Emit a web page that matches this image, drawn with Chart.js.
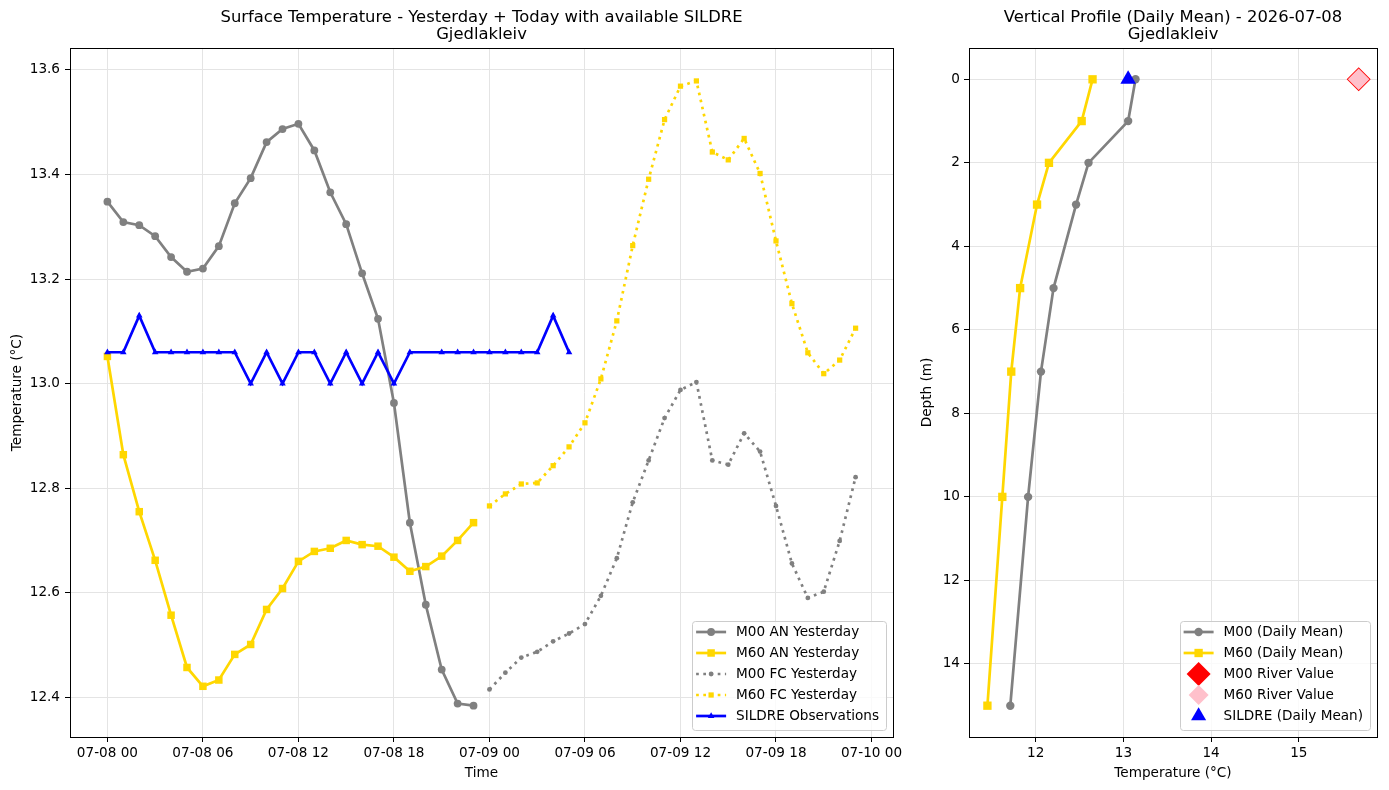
<!DOCTYPE html>
<html><head><meta charset="utf-8">
<script src="https://cdn.jsdelivr.net/npm/chart.js@4.4.1/dist/chart.umd.min.js"></script>
<style>
html,body{margin:0;padding:0;background:#fff;width:1389px;height:790px;overflow:hidden;}
#c1{position:absolute;left:0;top:0;}
#c2{position:absolute;left:915px;top:0;}
</style></head><body>
<canvas id="c1" width="915" height="790"></canvas>
<canvas id="c2" width="474" height="790"></canvas>
<script>
// ---------- data: surface temperature ----------
const anHours = [0,1,2,3,4,5,6,7,8,9,10,11,12,13,14,15,16,17,18,19,20,21,22,23];
const fcHours = [24,25,26,27,28,29,30,31,32,33,34,35,36,37,38,39,40,41,42,43,44,45,46,47];
const m00An = [13.348,13.309,13.303,13.282,13.242,13.214,13.220,13.263,13.345,13.393,13.462,13.487,13.497,13.446,13.366,13.305,13.211,13.124,12.963,12.734,12.577,12.453,12.388,12.384];
const m60An = [13.052,12.864,12.755,12.662,12.557,12.457,12.421,12.433,12.482,12.501,12.568,12.608,12.660,12.679,12.685,12.700,12.692,12.689,12.668,12.641,12.650,12.670,12.700,12.734];
const m00Fc = [12.415,12.447,12.476,12.487,12.507,12.522,12.540,12.594,12.666,12.773,12.853,12.934,12.988,13.003,12.853,12.845,12.905,12.870,12.766,12.656,12.590,12.602,12.699,12.821];
const m60Fc = [12.766,12.789,12.808,12.810,12.843,12.879,12.925,13.009,13.120,13.264,13.391,13.505,13.569,13.579,13.443,13.428,13.469,13.402,13.273,13.153,13.059,13.019,13.045,13.106];
const sildreHours = [0,1,2,3,4,5,6,7,8,9,10,11,12,13,14,15,16,17,18,19,21,22,23,24,25,26,27,28,29];
const sildreObs = [13.06,13.06,13.13,13.06,13.06,13.06,13.06,13.06,13.06,13.00,13.06,13.00,13.06,13.06,13.00,13.06,13.00,13.06,13.00,13.06,13.06,13.06,13.06,13.06,13.06,13.06,13.06,13.13,13.06];
const timeTickHours = [0,6,12,18,24,30,36,42,48];
const timeTickLabels = ['07-08 00','07-08 06','07-08 12','07-08 18','07-09 00','07-09 06','07-09 12','07-09 18','07-10 00'];
const tempTicks = [12.4,12.6,12.8,13.0,13.2,13.4,13.6];

// ---------- data: vertical profile ----------
const depths = [0,1,2,3,5,7,10,15];
const m00Profile = [13.138,13.054,12.602,12.460,12.203,12.060,11.913,11.710];
const m60Profile = [12.648,12.524,12.151,12.015,11.822,11.721,11.619,11.449];
const riverDepth = [0];
const m00River = [15.683];
const m60River = [15.683];
const sildreMean = [13.054];
const profileTempTicks = [12,13,14,15];
const depthTicks = [0,2,4,6,8,10,12,14];

const FONT = '"DejaVu Sans", sans-serif';
const FS = 13.6;
const LW = 2.7;
const DOT = [2.7, 4.5];
const GRAY = '#808080', GOLD = '#FFD700', BLUE = '#0000FF';

Chart.defaults.font.family = FONT;
Chart.defaults.font.size = FS;
Chart.defaults.color = '#000';

function drawMarker(ctx, m, x, y) {
  ctx.save();
  ctx.setLineDash([]);
  ctx.fillStyle = m.fill;
  ctx.beginPath();
  const r = m.r;
  switch (m.style) {
    case 'circle': ctx.arc(x, y, r, 0, Math.PI * 2); break;
    case 'rect': { const s = r * Math.SQRT1_2; ctx.rect(x - s, y - s, 2 * s, 2 * s); break; }
    case 'triangle': {
      const a1 = 2 * Math.PI / 3, a2 = 4 * Math.PI / 3;
      ctx.moveTo(x, y - r);
      ctx.lineTo(x + r * Math.sin(a1), y - r * Math.cos(a1));
      ctx.lineTo(x + r * Math.sin(a2), y - r * Math.cos(a2));
      break;
    }
    case 'rectRot': ctx.moveTo(x - r, y); ctx.lineTo(x, y - r); ctx.lineTo(x + r, y); ctx.lineTo(x, y + r); break;
  }
  ctx.closePath();
  ctx.fill();
  ctx.restore();
}

function legendPlugin(items) {
  return {
    id: 'customLegend',
    afterDraw(chart) {
      const ctx = chart.ctx, a = chart.chartArea;
      ctx.save();
      ctx.font = FS + 'px ' + FONT;
      const tw = Math.max(...items.map(it => ctx.measureText(it.label).width));
      const lineStart = 4, textOff = 44;
      const w = textOff + tw + 7, h = 109;
      const x0 = a.right - 7 - w, y0 = a.bottom - 7 - h;
      ctx.beginPath();
      ctx.roundRect(Math.round(x0) + 0.5, Math.round(y0) + 0.5, Math.round(w), Math.round(h), 3);
      ctx.fillStyle = 'rgba(255,255,255,0.8)';
      ctx.fill();
      ctx.strokeStyle = '#cccccc';
      ctx.lineWidth = 1;
      ctx.stroke();
      items.forEach((it, i) => {
        const cy = y0 + 11 + i * 21;
        if (it.line) {
          ctx.save();
          ctx.strokeStyle = it.color;
          ctx.lineWidth = LW;
          ctx.setLineDash(it.dash || []);
          ctx.beginPath();
          ctx.moveTo(x0 + lineStart, cy);
          ctx.lineTo(x0 + lineStart + 30, cy);
          ctx.stroke();
          ctx.restore();
        }
        drawMarker(ctx, it.marker, x0 + lineStart + 15, cy);
        ctx.fillStyle = '#000';
        ctx.textBaseline = 'middle';
        ctx.textAlign = 'left';
        ctx.fillText(it.label, x0 + textOff, cy + 0.5);
      });
      ctx.restore();
    }
  };
}

const framePlugin = {
  id: 'frame',
  afterDatasetsDraw(chart) {
    const ctx = chart.ctx, a = chart.chartArea;
    ctx.save();
    ctx.strokeStyle = '#000';
    ctx.lineWidth = 1;
    ctx.setLineDash([]);
    ctx.strokeRect(Math.round(a.left) + 0.5, Math.round(a.top) + 0.5, Math.round(a.right - a.left), Math.round(a.bottom - a.top));
    ctx.restore();
  }
};

function titlePlugin(lines) {
  return {
    id: 'twoLineTitle',
    afterDraw(chart) {
      const ctx = chart.ctx, a = chart.chartArea;
      ctx.save();
      ctx.font = '16.4px ' + FONT;
      ctx.fillStyle = '#000';
      ctx.textAlign = 'center';
      ctx.textBaseline = 'alphabetic';
      const cx = (a.left + a.right) / 2;
      ctx.fillText(lines[0], cx, 22);
      ctx.fillText(lines[1], cx, 38.7);
      ctx.restore();
    }
  };
}

const gridCommon = { color: '#e4e4e4', lineWidth: 1, tickColor: '#000', tickLength: 5, tickWidth: 1 };

// ---------- left chart ----------
const pts = (xs, ys) => xs.map((x, i) => ({ x: x, y: ys[i] }));

new Chart(document.getElementById('c1'), {
  type: 'line',
  data: {
    datasets: [
      { label: 'M00 AN Yesterday', data: pts(anHours, m00An), borderColor: GRAY, backgroundColor: GRAY, borderWidth: LW,
        pointStyle: 'circle', pointRadius: 3.9, pointBorderWidth: 0, pointBackgroundColor: GRAY, order: 5 },
      { label: 'M60 AN Yesterday', data: pts(anHours, m60An), borderColor: GOLD, backgroundColor: GOLD, borderWidth: LW,
        pointStyle: 'rect', pointRadius: 5.3, pointBorderWidth: 0, pointBackgroundColor: GOLD, order: 4 },
      { label: 'M00 FC Yesterday', data: pts(fcHours, m00Fc), borderColor: GRAY, backgroundColor: GRAY, borderWidth: LW, borderDash: DOT,
        pointStyle: 'circle', pointRadius: 2.4, pointBorderWidth: 0, pointBackgroundColor: GRAY, order: 3 },
      { label: 'M60 FC Yesterday', data: pts(fcHours, m60Fc), borderColor: GOLD, backgroundColor: GOLD, borderWidth: LW, borderDash: DOT,
        pointStyle: 'rect', pointRadius: 3.7, pointBorderWidth: 0, pointBackgroundColor: GOLD, order: 2 },
      { label: 'SILDRE Observations', data: pts(sildreHours, sildreObs), borderColor: BLUE, backgroundColor: BLUE, borderWidth: LW,
        pointStyle: 'triangle', pointRadius: 3.8, pointBorderWidth: 0, pointBackgroundColor: BLUE, order: 1 }
    ]
  },
  options: {
    responsive: false,
    animation: false,
    events: [],
    layout: { padding: { top: 48, right: 22, bottom: 0, left: 0 } },
    elements: { line: { tension: 0 } },
    plugins: { legend: { display: false }, tooltip: { enabled: false }, title: { display: false } },
    scales: {
      x: {
        type: 'linear', min: -2.35, max: 49.35,
        afterBuildTicks: s => { s.ticks = timeTickHours.map(v => ({ value: v })); },
        afterFit: s => { s.height = 53; },
        ticks: { autoSkip: false, maxRotation: 0, padding: 3, callback: (v, i) => timeTickLabels[i] },
        grid: gridCommon,
        border: { display: false },
        title: { display: true, text: 'Time', padding: { top: 0, bottom: 8 }, font: { size: FS } }
      },
      y: {
        type: 'linear', min: 12.324, max: 13.642,
        afterBuildTicks: s => { s.ticks = tempTicks.map(v => ({ value: v })); },
        afterFit: s => { s.width = 70; },
        ticks: { padding: 5, callback: v => Number(v).toFixed(1) },
        grid: gridCommon,
        border: { display: false },
        title: { display: true, text: 'Temperature (°C)', padding: { top: 9, bottom: 0 }, font: { size: FS } }
      }
    }
  },
  plugins: [framePlugin,
    titlePlugin(['Surface Temperature - Yesterday + Today with available SILDRE', 'Gjedlakleiv']),
    legendPlugin([
      { label: 'M00 AN Yesterday', line: true, color: GRAY, marker: { style: 'circle', r: 3.9, fill: GRAY } },
      { label: 'M60 AN Yesterday', line: true, color: GOLD, marker: { style: 'rect', r: 5.3, fill: GOLD } },
      { label: 'M00 FC Yesterday', line: true, color: GRAY, dash: DOT, marker: { style: 'circle', r: 2.4, fill: GRAY } },
      { label: 'M60 FC Yesterday', line: true, color: GOLD, dash: DOT, marker: { style: 'rect', r: 3.7, fill: GOLD } },
      { label: 'SILDRE Observations', line: true, color: BLUE, marker: { style: 'triangle', r: 3.8, fill: BLUE } }
    ])]
});

// ---------- right chart ----------
const ppts = (xs, ys) => xs.map((x, i) => ({ x: x, y: ys[i] }));

new Chart(document.getElementById('c2'), {
  type: 'line',
  data: {
    datasets: [
      { label: 'M00 (Daily Mean)', data: ppts(m00Profile, depths), borderColor: GRAY, backgroundColor: GRAY, borderWidth: LW,
        pointStyle: 'circle', pointRadius: 4.2, pointBorderWidth: 0, pointBackgroundColor: GRAY, order: 5 },
      { label: 'M60 (Daily Mean)', data: ppts(m60Profile, depths), borderColor: GOLD, backgroundColor: GOLD, borderWidth: LW,
        pointStyle: 'rect', pointRadius: 5.9, pointBorderWidth: 0, pointBackgroundColor: GOLD, order: 4 },
      { label: 'M00 River Value', data: ppts(m00River, riverDepth), showLine: false, borderColor: 'red', backgroundColor: 'red',
        pointStyle: 'rectRot', pointRadius: 12, pointBorderWidth: 0, pointBackgroundColor: 'red', order: 3 },
      { label: 'M60 River Value', data: ppts(m60River, riverDepth), showLine: false, borderColor: 'pink', backgroundColor: 'pink',
        pointStyle: 'rectRot', pointRadius: 10.8, pointBorderWidth: 0, pointBackgroundColor: 'pink', order: 2 },
      { label: 'SILDRE (Daily Mean)', data: ppts(sildreMean, riverDepth), showLine: false, borderColor: BLUE, backgroundColor: BLUE,
        pointStyle: 'triangle', pointRadius: 9, pointBorderWidth: 0, pointBackgroundColor: BLUE, order: 1 }
    ]
  },
  options: {
    responsive: false,
    animation: false,
    events: [],
    layout: { padding: { top: 48, right: 9, bottom: 0, left: 0 } },
    elements: { line: { tension: 0 } },
    plugins: { legend: { display: false }, tooltip: { enabled: false }, title: { display: false } },
    scales: {
      x: {
        type: 'linear', min: 11.239, max: 15.892,
        afterBuildTicks: s => { s.ticks = profileTempTicks.map(v => ({ value: v })); },
        afterFit: s => { s.height = 53; },
        ticks: { autoSkip: false, maxRotation: 0, padding: 3, callback: v => String(v) },
        grid: gridCommon,
        border: { display: false },
        title: { display: true, text: 'Temperature (°C)', padding: { top: 0, bottom: 8 }, font: { size: FS } }
      },
      y: {
        type: 'linear', reverse: true, min: -0.75, max: 15.75,
        afterBuildTicks: s => { s.ticks = depthTicks.map(v => ({ value: v })); },
        afterFit: s => { s.width = 54; },
        ticks: { padding: 4, callback: v => String(v) },
        grid: gridCommon,
        border: { display: false },
        title: { display: true, text: 'Depth (m)', padding: { top: 4, bottom: 0 }, font: { size: FS } }
      }
    }
  },
  plugins: [framePlugin,
    titlePlugin(['Vertical Profile (Daily Mean) - 2026-07-08', 'Gjedlakleiv']),
    legendPlugin([
      { label: 'M00 (Daily Mean)', line: true, color: GRAY, marker: { style: 'circle', r: 4.2, fill: GRAY } },
      { label: 'M60 (Daily Mean)', line: true, color: GOLD, marker: { style: 'rect', r: 5.9, fill: GOLD } },
      { label: 'M00 River Value', line: false, marker: { style: 'rectRot', r: 12, fill: 'red' } },
      { label: 'M60 River Value', line: false, marker: { style: 'rectRot', r: 10, fill: 'pink' } },
      { label: 'SILDRE (Daily Mean)', line: false, marker: { style: 'triangle', r: 8.7, fill: BLUE } }
    ])]
});
</script>
</body></html>
